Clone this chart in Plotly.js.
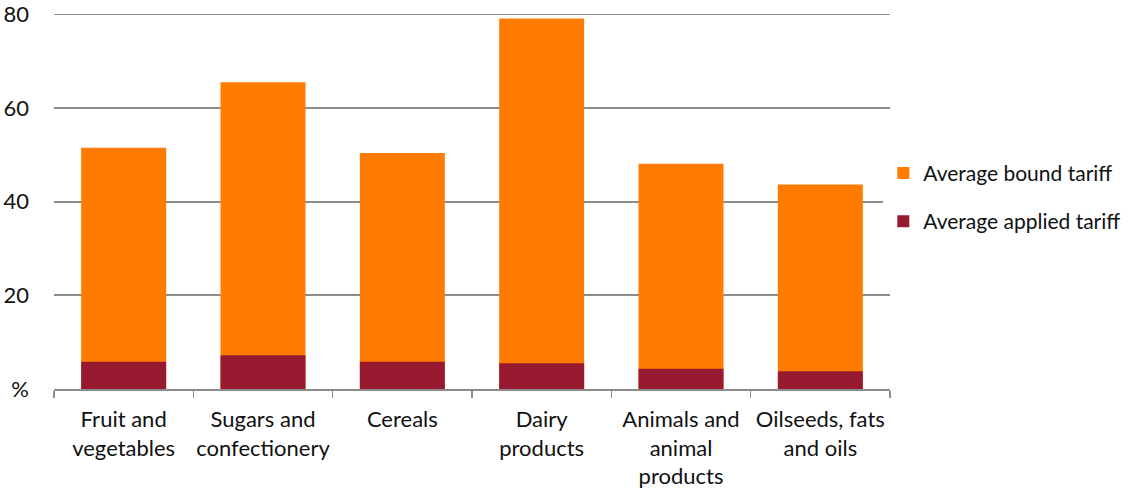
<!DOCTYPE html>
<html>
<head>
<meta charset="utf-8">
<script src="https://cdn.plot.ly/plotly-3.0.1.min.js"></script>
<style>
  html, body { margin: 0; padding: 0; background: #fff; }
  #chart { width: 1137px; height: 492px; }
</style>
</head>
<body>
<div id="chart"></div>
<script>
// Average agricultural tariffs by product group (%)
const categories = [
  "Fruit and<br>vegetables",
  "Sugars and<br>confectionery",
  "Cereals",
  "Dairy<br>products",
  "Animals and<br>animal<br>products",
  "Oilseeds, fats<br>and oils"
];
const boundTariff = [51.5, 65.5, 50.4, 79.1, 48.1, 43.7];
const appliedTariff = [5.8, 7.2, 5.8, 5.5, 4.3, 3.8];
const yTickVals = [0, 20, 40, 60, 80];
const yTickText = ["%", "20", "40", "60", "80"];

const font = "Lato, 'Open Sans', sans-serif";
const textSize = 22;

const traces = [
  {
    type: "bar",
    name: "Average bound tariff",
    x: categories,
    y: boundTariff,
    marker: { color: "#FF7C00" },
    legendgroup: "bound",
    hoverinfo: "skip"
  },
  {
    type: "bar",
    name: "Average applied tariff",
    x: categories,
    y: appliedTariff,
    marker: { color: "#981A30" },
    legendgroup: "applied",
    hoverinfo: "skip"
  }
];

const layout = {
  width: 1137,
  height: 492,
  margin: { l: 54, r: 247, t: 13, b: 103, autoexpand: false },
  paper_bgcolor: "#fff",
  plot_bgcolor: "#fff",
  barmode: "overlay",
  bargap: 0.39,
  font: { family: font, size: textSize, color: "#111" },
  xaxis: {
    type: "category",
    automargin: false,
    showline: true,
    linecolor: "#8c8c8c",
    linewidth: 1.5,
    ticks: "outside",
    tickson: "boundaries",
    ticklen: 7,
    tickcolor: "#8c8c8c",
    tickwidth: 1.5,
    tickangle: 0,
    showgrid: false,
    ticklabelstandoff: 10,
    tickfont: { family: font, size: textSize, color: "#111" }
  },
  yaxis: {
    range: [0, 80.3],
    automargin: false,
    tickvals: yTickVals,
    ticktext: yTickText,
    showgrid: true,
    gridcolor: "#8c8c8c",
    gridwidth: 1.8,
    zeroline: false,
    showline: false,
    ticks: "",
    ticklabelstandoff: 24,
    tickfont: { family: font, size: textSize, color: "#111" }
  },
  legend: {
    x: 0.992,
    xanchor: "left",
    y: 0.51,
    yanchor: "middle",
    traceorder: "grouped",
    tracegroupgap: 18,
    itemwidth: 30,
    font: { family: font, size: 21, color: "#111" }
  },
  showlegend: true
};

Plotly.newPlot("chart", traces, layout, { displayModeBar: false, staticPlot: true });
</script>
</body>
</html>
